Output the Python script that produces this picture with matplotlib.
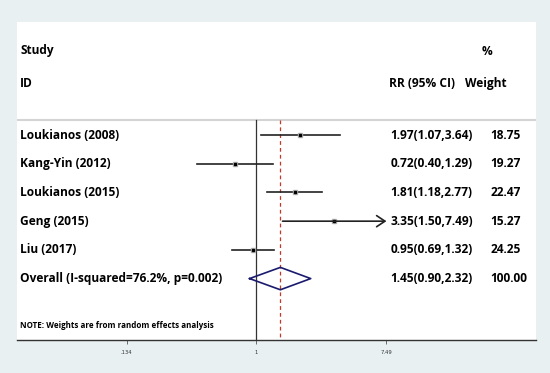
#!/usr/bin/env python3
"""Forest plot of RR (95% CI) by study, random effects."""

import matplotlib
matplotlib.use("Agg")
import matplotlib.pyplot as plt
from matplotlib.transforms import blended_transform_factory

studies = ["Loukianos (2008)", "Kang-Yin (2012)", "Loukianos (2015)", "Geng (2015)", "Liu (2017)"]
rr = [1.97, 0.72, 1.81, 3.35, 0.95]
ci_low = [1.07, 0.40, 1.18, 1.50, 0.69]
ci_high = [3.64, 1.29, 2.77, 7.49, 1.32]
weights = [18.75, 19.27, 22.47, 15.27, 24.25]
arrow_right = [False, False, False, True, False]

overall_label = "Overall (I-squared=76.2%, p=0.002)"
overall_rr, overall_low, overall_high = 1.45, 0.90, 2.32
overall_weight = 100.00

tick_values = [0.134, 1, 7.49]
tick_labels = [".134", "1", "7.49"]

BG = "#e8f0f2"
FONT = "Open Sans"

fig = plt.figure(figsize=(5.5, 3.73), dpi=100, facecolor=BG)
ax = fig.add_axes([0.0305, 0.0885, 0.944, 0.8525])
ax.set_facecolor("white")
ax.set_xscale("log")
ax.set_xlim(0.02451, 75.8)
ax.set_ylim(7.14, -3.94)

for side in ("top", "right", "left"):
    ax.spines[side].set_visible(False)
ax.spines["bottom"].set_color("#333333")
ax.spines["bottom"].set_linewidth(1.0)
ax.set_yticks([])
ax.set_xticks(tick_values)
ax.set_xticklabels(tick_labels)
ax.minorticks_off()
ax.tick_params(axis="x", length=3, width=0.6, color="#555555", labelsize=3.8, labelcolor="#333333", pad=4)

tr = blended_transform_factory(ax.transAxes, ax.transData)
txt = dict(fontsize=8.6, fontweight="bold", family=FONT, color="black", va="center", transform=tr)

# header
ax.text(0.0067, -2.96, "Study", **txt)
ax.text(0.9066, -2.9, "%", ha="center", **txt)
ax.text(0.0067, -1.79, "ID", **txt)
ax.text(0.717, -1.79, "RR (95% CI)", **txt)
ax.text(0.863, -1.79, "Weight", **txt)
ax.axhline(-0.52, color="#d4d4d4", linewidth=1.5)

# reference lines
ax.plot([1, 1], [-0.52, 7.14], color="#333333", linewidth=0.9)
ax.plot([overall_rr, overall_rr], [-0.52, 7.14], color="#c0392b", linewidth=0.9, linestyle=(0, (3, 2.5)))

for i, name in enumerate(studies):
    if arrow_right[i]:
        ax.annotate("", xy=(ci_high[i], i), xytext=(ci_low[i], i),
                    arrowprops=dict(arrowstyle="->,head_length=0.6,head_width=0.4",
                                    color="#222222", linewidth=1.2, shrinkA=0, shrinkB=0))
    else:
        ax.plot([ci_low[i], ci_high[i]], [i, i], color="#222222", linewidth=1.2)
    ax.plot(rr[i], i, marker="s", markersize=3.2, color="#b0b0b0", linestyle="none")
    ax.plot(rr[i], i, marker="s", markersize=1.6, color="black", linestyle="none")
    ax.text(0.0067, i, name, **txt)
    ax.text(0.720, i, f"{rr[i]:.2f}({ci_low[i]:.2f},{ci_high[i]:.2f})", **txt)
    ax.text(0.912, i, f"{weights[i]:.2f}", **txt)

yo = len(studies)
h = 0.39
ax.plot([overall_low, overall_rr, overall_high, overall_rr, overall_low],
        [yo, yo - h, yo, yo + h, yo], color="#1a1a6e", linewidth=1.2)
ax.text(0.0067, yo, overall_label, **txt)
ax.text(0.720, yo, f"{overall_rr:.2f}({overall_low:.2f},{overall_high:.2f})", **txt)
ax.text(0.912, yo, f"{overall_weight:.2f}", **txt)

ax.text(0.0067, 6.62, "NOTE: Weights are from random effects analysis",
        fontsize=5.8, fontweight="bold", family=FONT, va="center", transform=tr)

fig.savefig("out.png", dpi=100, facecolor=BG)
plt.close(fig)
